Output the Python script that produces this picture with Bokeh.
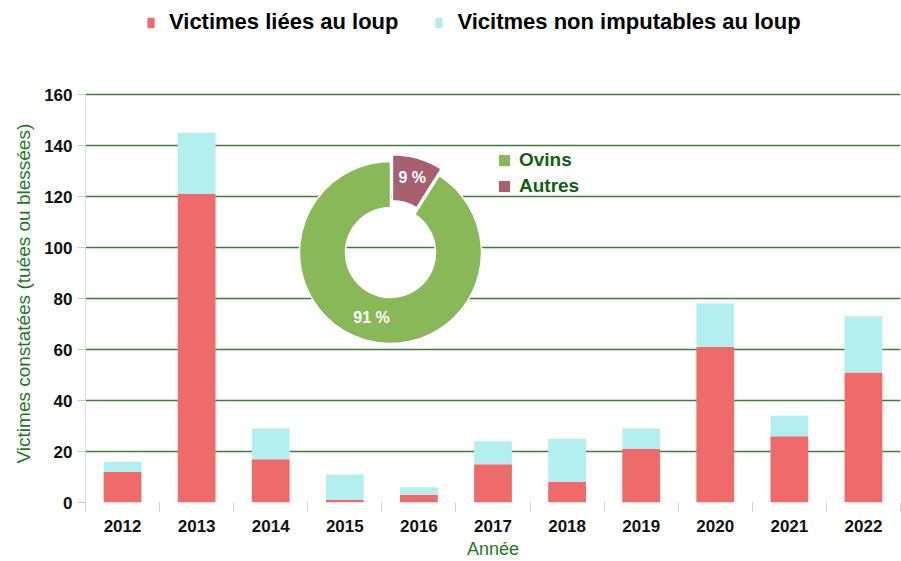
import math
from bokeh.plotting import figure
from bokeh.models import Range1d, FixedTicker, Legend, LegendItem, Title
from bokeh.core.properties import value
from bokeh.embed import file_html
from bokeh.resources import INLINE

years = ["2012", "2013", "2014", "2015", "2016", "2017", "2018", "2019", "2020", "2021", "2022"]
liees = [12, 121, 17, 1, 3, 15, 8, 21, 61, 26, 51]
non_imputables = [4, 24, 12, 10, 3, 9, 17, 8, 17, 8, 22]
series_names = ["Victimes liées au loup", "Vicitmes non imputables au loup"]
series_colors = ["#ef6b6b", "#b3efee"]

pie_labels = ["Ovins", "Autres"]
pie_values = [91, 9]
pie_colors = ["#88b858", "#a6606f"]

y_ticks = [0, 20, 40, 60, 80, 100, 120, 140, 160]

W, H = 901, 561
ML, MR, MT, MB = 85, 1, 0, 59
FW, FH = W - ML - MR, H - MT - MB
TOP_PX = 94  # where the top of the value axis (160) sits on the canvas
XMIN, XMAX = -0.5, len(years) - 0.5
YMIN = 0
YTOP = y_ticks[-1]
YMAX = YTOP * FH / (FH - (TOP_PX - MT))

p = figure(width=W, height=H, x_range=Range1d(XMIN, XMAX), y_range=Range1d(YMIN, YMAX),
           output_backend="svg", toolbar_location=None,
           min_border_left=ML, min_border_right=MR, min_border_top=MT, min_border_bottom=MB)
p.outline_line_color = None
p.background_fill_color = "white"

xs = list(range(len(years)))
src = dict(x=xs, liees=liees, non=non_imputables)
rs = p.vbar_stack(["liees", "non"], x="x", width=0.51, source=src,
                  color=series_colors, line_color=None)

# grid
p.xgrid.visible = False
p.ygrid.ticker = FixedTicker(ticks=y_ticks)
p.ygrid.grid_line_color = "#3f7f3a"
p.ygrid.grid_line_width = 1.3

# x axis
xa = p.xaxis[0]
xa.ticker = FixedTicker(ticks=xs, minor_ticks=[i - 0.5 for i in range(len(years) + 1)])
xa.major_label_overrides = {i: y for i, y in enumerate(years)}
xa.major_tick_line_color = None
xa.major_tick_out = 0
xa.major_tick_in = 0
xa.minor_tick_out = 9
xa.minor_tick_in = 0
xa.minor_tick_line_color = "#d0d0d0"
xa.axis_line_color = None
xa.major_label_standoff = 8
xa.major_label_text_font = "Liberation Sans"
xa.major_label_text_font_style = "bold"
xa.major_label_text_font_size = "17px"
xa.major_label_text_color = "#111111"
xa.axis_label = "Année"
xa.axis_label_text_font = "Liberation Sans"
xa.axis_label_text_font_style = "normal"
xa.axis_label_text_font_size = "18px"
xa.axis_label_text_color = "#217a21"
xa.axis_label_standoff = 4

# y axis
ya = p.yaxis[0]
ya.ticker = FixedTicker(ticks=y_ticks)
ya.bounds = (y_ticks[0], y_ticks[-1])
ya.minor_tick_line_color = None
ya.major_tick_out = 8
ya.major_tick_in = 0
ya.major_tick_line_color = "#cccccc"
ya.axis_line_color = "#dddddd"
ya.major_label_standoff = 5
ya.major_label_text_font = "Liberation Sans"
ya.major_label_text_font_style = "bold"
ya.major_label_text_font_size = "17px"
ya.major_label_text_color = "#111111"

# y axis title, placed alongside the value axis (0..160 part of the frame)
p.add_layout(Title(text="Victimes constatées (tuées ou blessées)", align="left", offset=39,
                   text_font="Liberation Sans", text_font_style="normal",
                   text_font_size="19px", text_color="#217a21", standoff=16), "left")

# top legend
leg = Legend(items=[LegendItem(label=series_names[i], renderers=[rs[i]]) for i in range(2)],
             orientation="horizontal", location=(61, 467),
             glyph_width=9, glyph_height=13, label_standoff=14, spacing=36,
             padding=0, margin=0, border_line_color=None, background_fill_alpha=0,
             label_text_font="Liberation Sans", label_text_font_style="bold",
             label_text_font_size="22px", label_text_color="#000000")
p.add_layout(leg, "center")

# donut
def px_to_x(px):
    return XMIN + (px - ML) / FW * (XMAX - XMIN)

def px_to_y(py):
    return YMIN + (MT + FH - py) / FH * (YMAX - YMIN)

cx_px, cy_px = 390, 252
r_out, r_in, explode = 91, 45, 7
sx = (XMAX - XMIN) / FW
sy = (YMAX - YMIN) / FH
total = sum(pie_values)
frac_autres = pie_values[1] / total
a_aut = 2 * math.pi * frac_autres
cx, cy = px_to_x(cx_px), px_to_y(cy_px)

p.annular_wedge(x=[cx], y=[cy], inner_radius=r_in, outer_radius=r_out,
                inner_radius_units="screen", outer_radius_units="screen",
                start_angle=math.pi / 2, end_angle=math.pi / 2 - a_aut,
                fill_color=pie_colors[0], line_color="white", line_width=1.5)
mid = a_aut / 2
ex_x = cx + explode * math.sin(mid) * sx
ex_y = cy + explode * math.cos(mid) * sy
p.annular_wedge(x=[ex_x], y=[ex_y], inner_radius=r_in, outer_radius=r_out,
                inner_radius_units="screen", outer_radius_units="screen",
                start_angle=math.pi / 2 - a_aut, end_angle=math.pi / 2,
                fill_color=pie_colors[1], line_color="white", line_width=1.5)

r_lab = (r_in + r_out) / 2
mid_ov = a_aut + (2 * math.pi - a_aut) / 2
lab_x = [ex_x + (r_lab + 3) * math.sin(mid) * sx, cx + r_lab * math.sin(mid_ov) * sx]
lab_y = [ex_y + (r_lab + 3) * math.cos(mid) * sy, cy + r_lab * math.cos(mid_ov) * sy]
lab_t = [f"{pie_values[1]} %", f"{pie_values[0]} %"]
p.text(x=lab_x, y=lab_y, text=lab_t, text_align="center", text_baseline="middle",
       text_font=value("Liberation Sans"), text_font_style="bold",
       text_font_size="16px", text_color="white")

# legend swatches for the donut (zero-height bars, legend only)
sw = [p.vbar(x=[cx], top=[YMIN], bottom=[YMIN], width=0.01, fill_color=c, line_color=None)
      for c in pie_colors]
leg2 = Legend(items=[LegendItem(label=pie_labels[i], renderers=[sw[i]]) for i in range(2)],
              location=(412, 305), glyph_width=14, glyph_height=14, label_standoff=8,
              spacing=4, padding=0, margin=0, border_line_color=None, background_fill_alpha=0,
              label_text_font="Liberation Sans", label_text_font_style="bold",
              label_text_font_size="19px", label_text_color="#155d15")
p.add_layout(leg2, "center")

open("out.html", "w").write(file_html(p, INLINE))
